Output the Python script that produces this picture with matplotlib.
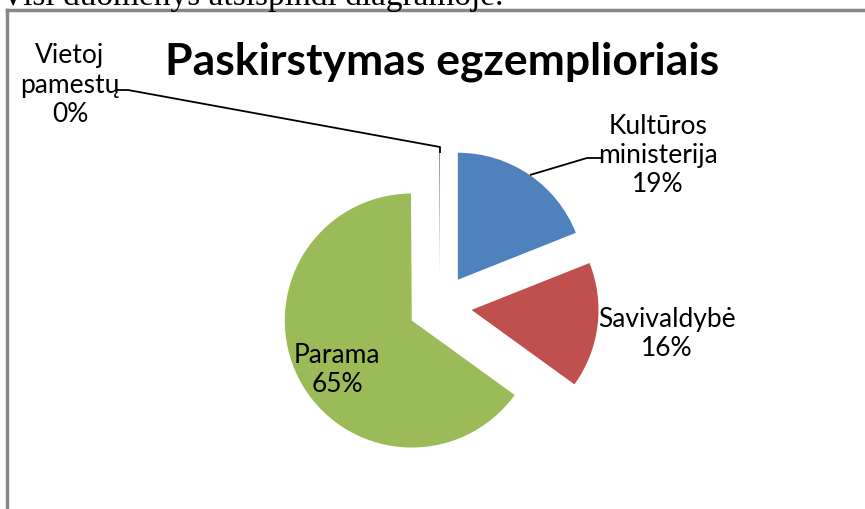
import matplotlib
matplotlib.use('Agg')
import matplotlib.pyplot as plt
from matplotlib.lines import Line2D

W, H = 865, 510

labels = ["Kultūros\nministerija", "Savivaldybė", "Parama", "Vietoj\npamestų"]
values = [19, 16, 65, 0.1]
colors = ["#4F81BD", "#C0504D", "#9BBB59", "#8064A2"]
title = "Paskirstymas egzemplioriais"
doc_text = "Visi duomenys atsispindi diagramoje."

plt.rcParams['font.family'] = ['Lato', 'DejaVu Sans']

fig = plt.figure(figsize=(W / 100, H / 100), dpi=100)
ax = fig.add_axes([0, 0, 1, 1])

# pie in pixel coordinates (y up); explode is in data units, so scale by r
cx, cy, r = 440, H - 307, 127
ax.pie(values, colors=colors, startangle=90, counterclock=False,
       explode=[0.25 * r] * len(values), center=(cx, cy), radius=r,
       wedgeprops=dict(linewidth=0))
ax.set_xlim(0, W)
ax.set_ylim(0, H)
ax.set_aspect('equal')
ax.axis('off')

total = sum(values)
pct = [f"{v / total * 100:.0f}%" for v in values]

def py(y):
    return H - y

lab_pos = [(658, 155), (667, 334), (337, 370), (70, 85)]
for lab, p, (x, y) in zip(labels, pct, lab_pos):
    ax.text(x, py(y), f"{lab}\n{p}", ha='center', va='center',
            fontsize=19, linespacing=1.2, color='black')

# leader lines
ax.plot([117, 128, 440, 440], [py(91), py(91), py(148), py(154)],
        color='black', lw=1.3, solid_capstyle='butt')
ax.plot([530, 587, 601], [py(176), py(159), py(159)],
        color='black', lw=1.3, solid_capstyle='butt')

ax.text(442, py(62), title, ha='center', va='center', fontsize=32,
        fontweight='bold')

# chart frame (partly visible)
fig.add_artist(Line2D([7 / W, 7 / W], [0, 1 - 11 / H], color='#888888',
                      lw=2.5, transform=fig.transFigure))
fig.add_artist(Line2D([7 / W, 1], [1 - 11 / H, 1 - 11 / H], color='#888888',
                      lw=2.5, transform=fig.transFigure))

# cut-off document text above the chart
fig.text(1 / W, 1 - 5 / H, doc_text, ha='left', va='baseline',
         fontsize=24, family='Liberation Serif')

fig.savefig("out.png", dpi=100)
